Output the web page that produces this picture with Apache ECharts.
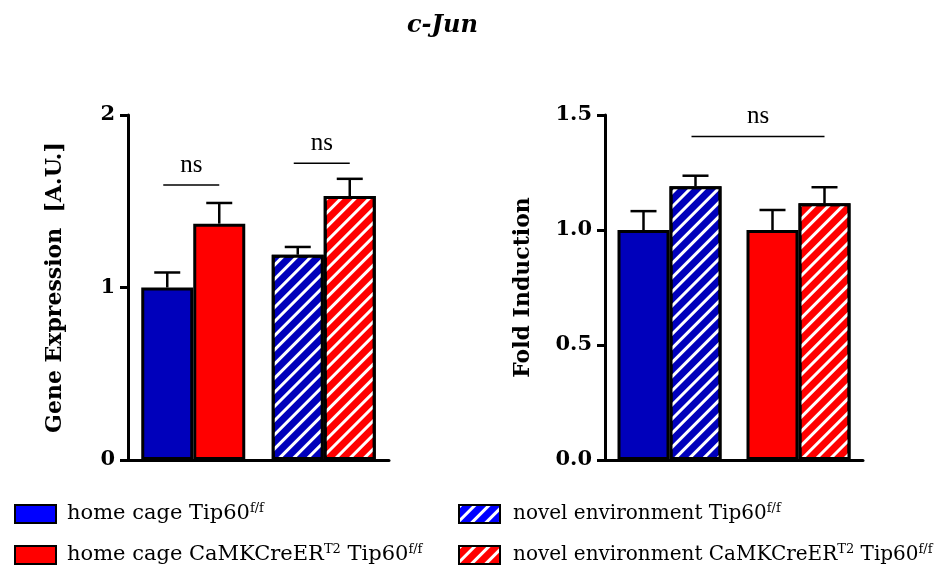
<!DOCTYPE html>
<html>
<head>
<meta charset="utf-8">
<script src="https://cdn.jsdelivr.net/npm/echarts@6/dist/echarts.min.js"></script>
<style>
  html, body { margin: 0; padding: 0; background: #fff; }
  #main { width: 949px; height: 570px; }
</style>
</head>
<body>
<div id="main"></div>
<script>
// left panel: gene expression, grouped by condition
var leftCats = ['home cage', 'novel environment'];
var leftTip60 = [1.00, 1.19];
var leftTip60Err = [0.087, 0.045];
var leftCaMK = [1.37, 1.53];
var leftCaMKErr = [0.12, 0.10];
var leftTicks = [0, 2, 1];           // min, max, interval

// right panel: fold induction, grouped by genotype
var rightCats = ['Tip60', 'CaMKCreER Tip60'];
var rightHome = [1.00, 1.00];
var rightHomeErr = [0.082, 0.087];
var rightNovel = [1.19, 1.116];
var rightNovelErr = [0.046, 0.07];
var rightTicks = [0, 1.5, 0.5];

// significance brackets: [cat1, side1, cat2, side2, y]
var leftSig = [[0, -1, 0, 1, 1.594], [1, -1, 1, 1, 1.72]];
var rightSig = [[0, 1, 1, 1, 1.407]];

var legendNames = [
    'home cage Tip60',
    'home cage CaMKCreER Tip60',
    'novel environment Tip60',
    'novel environment CaMKCreER Tip60'
];
var legendText = [
    'home cage Tip60{s|f/f}',
    'home cage CaMKCreER{s|T2} Tip60{s|f/f}',
    'novel environment Tip60{s|f/f}',
    'novel environment CaMKCreER{s|T2} Tip60{s|f/f}'
];

var BLUE = '#0000bb';
var RED = '#ff0000';
var BAR_W = 52;
var serif = 'DejaVu Serif';

var hatch = {
    symbol: 'rect',
    symbolSize: 1,
    dashArrayX: [1, 0],
    dashArrayY: [3, 7],
    rotation: -Math.PI / 4,
    color: '#ffffff'
};

function items(vals, colors, hatched) {
    return vals.map(function (v, i) {
        var st = { color: colors[i] };
        if (hatched[i]) st.decal = hatch;
        return { value: v, itemStyle: st };
    });
}

function errData(vals, errs, side) {
    return vals.map(function (v, i) { return [i, v, v + errs[i], side]; });
}

function renderErr(params, api) {
    var half = BAR_W / 2;
    var base = api.coord([api.value(0), api.value(1)]);
    var top = api.coord([api.value(0), api.value(2)]);
    var x = base[0] + api.value(3) * half;
    return {
        type: 'group',
        children: [
            { type: 'line', shape: { x1: x, y1: base[1], x2: x, y2: top[1] }, style: { stroke: '#000', lineWidth: 2.5 } },
            { type: 'line', shape: { x1: x - 13, y1: top[1], x2: x + 13, y2: top[1] }, style: { stroke: '#000', lineWidth: 2.5 } }
        ]
    };
}

function renderSig(params, api) {
    var half = BAR_W / 2;
    var p1 = api.coord([api.value(0), api.value(4)]);
    var p2 = api.coord([api.value(2), api.value(4)]);
    var x1 = p1[0] + api.value(1) * half - 4;
    var x2 = p2[0] + api.value(3) * half;
    return {
        type: 'group',
        children: [
            { type: 'line', shape: { x1: x1, y1: p1[1], x2: x2, y2: p1[1] }, style: { stroke: '#000', lineWidth: 1.5 } },
            { type: 'text', x: (x1 + x2) / 2, y: p1[1] - 7, style: { text: 'ns', font: '25px "Liberation Serif"', fill: '#000', align: 'center', verticalAlign: 'bottom' } }
        ]
    };
}

function yAxisOf(grid, ticks, name, gap, fmt) {
    return {
        type: 'value', gridIndex: grid,
        min: ticks[0], max: ticks[1], interval: ticks[2],
        name: name, nameLocation: 'middle', nameGap: gap,
        nameTextStyle: { fontFamily: serif, fontWeight: 'bold', fontSize: 22, color: '#000' },
        axisLine: { show: true, lineStyle: { color: '#000', width: 3 } },
        axisTick: { show: true, length: 8, lineStyle: { color: '#000', width: 3 } },
        axisLabel: { fontFamily: serif, fontWeight: 'bold', fontSize: 21, color: '#000', margin: 13, formatter: fmt },
        splitLine: { show: false }
    };
}

function xAxisOf(grid, cats) {
    return {
        type: 'category', gridIndex: grid, data: cats,
        axisLine: { show: true, lineStyle: { color: '#000', width: 3 } },
        axisTick: { show: false }, axisLabel: { show: false }
    };
}

function legendOf(idx, left, top, pad, size) {
    return {
        left: left, top: top, icon: 'rect', itemWidth: 41, itemHeight: 18,
        data: [legendNames[idx]],
        formatter: function (n) { return legendText[legendNames.indexOf(n)]; },
        textStyle: { fontFamily: serif, fontSize: size, color: '#000', lineHeight: 24, padding: [0, 0, 0, pad],
            rich: { s: { fontFamily: serif, fontSize: 13, verticalAlign: 'top', lineHeight: 24, padding: [0, 0, 8, 0] } } }
    };
}

var barBorder = { borderColor: '#000', borderWidth: 3 };

var chart = echarts.init(document.getElementById('main'));
chart.setOption({
    animation: false,
    title: {
        text: 'c-Jun', left: 402, top: 9,
        textStyle: { fontFamily: serif, fontWeight: 'bold', fontStyle: 'italic', fontSize: 24, color: '#000' }
    },
    grid: [
        { left: 128, top: 115, width: 261, height: 345 },
        { left: 605, top: 115, width: 258, height: 345 },
        { left: 0, top: 0, width: 1, height: 1, show: false }
    ],
    xAxis: [xAxisOf(0, leftCats), xAxisOf(1, rightCats), { type: 'category', gridIndex: 2, show: false, data: ['x'] }],
    yAxis: [
        yAxisOf(0, leftTicks, 'Gene Expression  [A.U.]', 62, null),
        yAxisOf(1, rightTicks, 'Fold Induction', 71, function (v) { return v.toFixed(1); }),
        { type: 'value', gridIndex: 2, show: false }
    ],
    legend: [
        legendOf(0, 9, 497, 6, 21),
        legendOf(1, 9, 538, 6, 21),
        legendOf(2, 453, 497, 8, 20),
        legendOf(3, 453, 538, 8, 20)
    ],
    series: [
        // left panel bars
        { type: 'bar', xAxisIndex: 0, yAxisIndex: 0, barWidth: BAR_W, barGap: '0%', itemStyle: barBorder,
          data: items(leftTip60, [BLUE, BLUE], [false, true]) },
        { type: 'bar', xAxisIndex: 0, yAxisIndex: 0, barWidth: BAR_W, barGap: '0%', itemStyle: barBorder,
          data: items(leftCaMK, [RED, RED], [false, true]) },
        { type: 'custom', xAxisIndex: 0, yAxisIndex: 0, renderItem: renderErr, z: 3, data: errData(leftTip60, leftTip60Err, -1) },
        { type: 'custom', xAxisIndex: 0, yAxisIndex: 0, renderItem: renderErr, z: 3, data: errData(leftCaMK, leftCaMKErr, 1) },
        { type: 'custom', xAxisIndex: 0, yAxisIndex: 0, renderItem: renderSig, z: 3, data: leftSig },
        // right panel bars
        { type: 'bar', xAxisIndex: 1, yAxisIndex: 1, barWidth: BAR_W, barGap: '0%', itemStyle: barBorder,
          data: items(rightHome, [BLUE, RED], [false, false]) },
        { type: 'bar', xAxisIndex: 1, yAxisIndex: 1, barWidth: BAR_W, barGap: '0%', itemStyle: barBorder,
          data: items(rightNovel, [BLUE, RED], [true, true]) },
        { type: 'custom', xAxisIndex: 1, yAxisIndex: 1, renderItem: renderErr, z: 3, data: errData(rightHome, rightHomeErr, -1) },
        { type: 'custom', xAxisIndex: 1, yAxisIndex: 1, renderItem: renderErr, z: 3, data: errData(rightNovel, rightNovelErr, 1) },
        { type: 'custom', xAxisIndex: 1, yAxisIndex: 1, renderItem: renderSig, z: 3, data: rightSig },
        // legend-only series
        { name: legendNames[0], type: 'bar', xAxisIndex: 2, yAxisIndex: 2, data: [],
          itemStyle: { color: '#0000ff', borderColor: '#000', borderWidth: 2 } },
        { name: legendNames[1], type: 'bar', xAxisIndex: 2, yAxisIndex: 2, data: [],
          itemStyle: { color: RED, borderColor: '#000', borderWidth: 2 } },
        { name: legendNames[2], type: 'bar', xAxisIndex: 2, yAxisIndex: 2, data: [],
          itemStyle: { color: '#0000ff', borderColor: '#000', borderWidth: 2, decal: hatch } },
        { name: legendNames[3], type: 'bar', xAxisIndex: 2, yAxisIndex: 2, data: [],
          itemStyle: { color: RED, borderColor: '#000', borderWidth: 2, decal: hatch } }
    ]
});
</script>
</body>
</html>
